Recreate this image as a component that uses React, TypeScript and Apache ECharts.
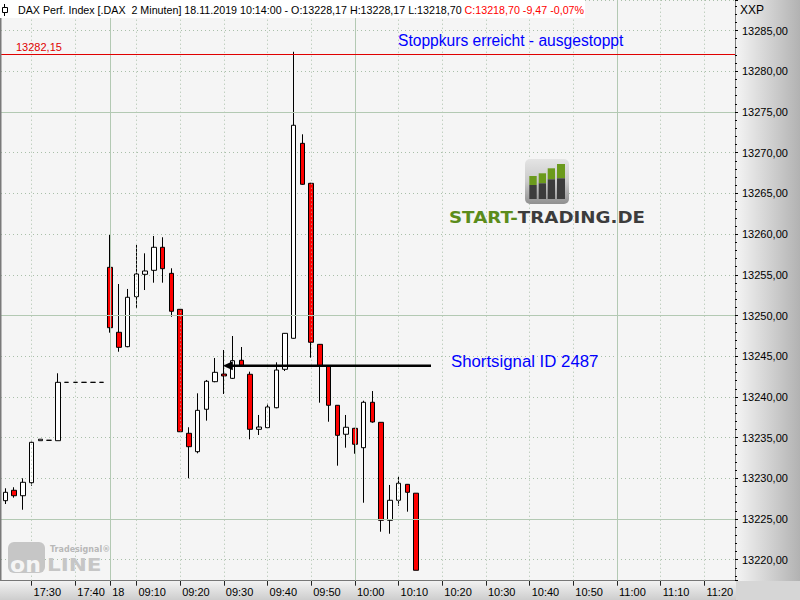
import React, { useEffect, useRef } from "react";
import * as echarts from "echarts";

const categories = [
  "17:24", "17:26", "17:28", "17:30", "17:32", "17:34", "17:36", "17:38", "17:40", "17:42", "17:44", "17:46",
  "09:04", "09:06", "09:08", "09:10", "09:12", "09:14", "09:16", "09:18", "09:20", "09:22", "09:24", "09:26",
  "09:28", "09:30", "09:32", "09:34", "09:36", "09:38", "09:40", "09:42", "09:44", "09:46", "09:48", "09:50",
  "09:52", "09:54", "09:56", "09:58", "10:00", "10:02", "10:04", "10:06", "10:08", "10:10", "10:12", "10:14",
  "10:16", "10:18", "10:20", "10:22", "10:24", "10:26", "10:28", "10:30", "10:32", "10:34", "10:36", "10:38",
  "10:40", "10:42", "10:44", "10:46", "10:48", "10:50", "10:52", "10:54", "10:56", "10:58", "11:00", "11:02",
  "11:04", "11:06", "11:08", "11:10", "11:12", "11:14", "11:16", "11:18", "11:20", "11:22", "11:24", "11:26",
];

const opens = [
  13227.25, 13228.53, 13227.86, 13229.46, 13234.62, 13234.67, 13234.62, 13241.79, 13241.79, 13241.79, 13241.79, 13241.79,
  13255.92, 13247.94, 13246.17, 13252.31, 13255.06, 13255.55, 13258.38, 13255.18, 13250.76, 13235.53, 13233.27, 13238.48,
  13241.87, 13242.81, 13242.28, 13244.5, 13242.78, 13236.02, 13236.22, 13238.67, 13243.39, 13247.2, 13271.15, 13266.24,
  13246.46, 13243.8, 13238.97, 13235.41, 13236.14, 13233.76, 13239.34, 13236.88, 13224.84, 13227.3, 13229.26, 13228.17,
];
const closes = [
  13228.28, 13227.86, 13229.51, 13234.42, 13234.8, 13234.67, 13241.79, 13241.79, 13241.79, 13241.79, 13241.79, 13241.79,
  13248.5, 13246.09, 13252.24, 13255.1, 13255.47, 13258.38, 13255.75, 13250.52, 13235.72, 13233.88, 13238.35, 13241.92,
  13243.02, 13242.57, 13244.45, 13243.88, 13236.02, 13236.3, 13238.76, 13243.3, 13247.81, 13273.37, 13266.12, 13246.71,
  13243.8, 13238.97, 13235.28, 13236.27, 13234.18, 13239.34, 13236.92, 13224.84, 13227.3, 13229.39, 13228.28, 13218.7,
];
const lows = [
  13226.84, 13227.62, 13226.14, 13229.09, 13234.62, 13234.67, 13234.62, 13241.79, 13241.79, 13241.79, 13241.79, 13241.79,
  13247.89, 13245.55, 13246.1, 13250.92, 13253.13, 13254.03, 13254.03, 13249.85, 13235.7, 13230.0, 13233.07, 13237.08,
  13241.8, 13240.36, 13242.2, 13243.8, 13234.79, 13235.32, 13236.14, 13238.6, 13243.18, 13247.15, 13266.05, 13244.82,
  13239.29, 13236.95, 13231.55, 13233.76, 13233.02, 13227.0, 13236.83, 13223.44, 13223.19, 13226.63, 13225.9, 13218.7,
];
const highs = [
  13228.77, 13228.9, 13230.0, 13234.5, 13234.8, 13234.67, 13242.9, 13241.79, 13241.79, 13241.79, 13241.79, 13241.79,
  13259.89, 13253.87, 13253.26, 13258.66, 13257.64, 13259.77, 13259.61, 13255.8, 13250.8, 13236.27, 13240.44, 13242.08,
  13244.78, 13245.76, 13247.48, 13246.13, 13243.1, 13237.78, 13239.16, 13244.25, 13247.85, 13282.4, 13272.26, 13266.3,
  13246.5, 13243.85, 13239.0, 13237.78, 13236.2, 13239.53, 13240.72, 13236.9, 13229.18, 13230.2, 13229.3, 13228.17,
];

const tickTimes = ["17:30", "17:40", "09:04", "09:10", "09:20", "09:30", "09:40", "09:50", "10:00", "10:10", "10:20", "10:30", "10:40", "10:50", "11:00", "11:10", "11:20"];
const tickLabels = ["17:30", "17:40", "18", "09:10", "09:20", "09:30", "09:40", "09:50", "10:00", "10:10", "10:20", "10:30", "10:40", "10:50", "11:00", "11:10", "11:20"];
const solidTimes = ["09:04", "10:00", "11:00"];
const solidPrices = [13275, 13250, 13225];
const stopPrice = 13282.15;
const stopLabel = "13282,15";
const signalPrice = 13243.83;
const signalStart = "09:30";
const yMin = 13217.42;
const yMax = 13288.76;

const headerBlack = "DAX Perf. Index [.DAX  2 Minuten] 18.11.2019 10:14:00 - O:13228,17 H:13228,17 L:13218,70 ";
const headerRed = "C:13218,70 -9,47 -0,07%";

const FONT = "Liberation Sans, Arial, sans-serif";

export default function App() {
  const ref = useRef<HTMLDivElement>(null);
  useEffect(() => {
    if (!ref.current) return;
    const chart = echarts.init(ref.current, undefined, { renderer: "svg" });
    const candleData = opens.map((o, i) => [o, closes[i], lows[i], highs[i]]);
    const dotted = { color: "#a9bfa9", type: [1, 3] as any, width: 1 };
    const solid = { color: "#b3c9b3", type: "solid" as any, width: 1 };
    chart.setOption({
      animation: false,
      backgroundColor: "transparent",
      grid: { left: 1, top: 0, width: 734, height: 580.7, show: true, backgroundColor: "#f5f5f5", borderWidth: 0 },
      xAxis: {
        type: "category",
        data: categories,
        boundaryGap: true,
        axisLine: { show: true, lineStyle: { color: "#777", width: 1 } },
        axisTick: {
          show: true,
          alignWithLabel: true,
          length: 5,
          interval: (i: number, v: string) => tickTimes.includes(v),
          lineStyle: { color: "#222" },
        },
        axisLabel: {
          interval: (i: number, v: string) => tickTimes.includes(v),
          formatter: (v: string) => tickLabels[tickTimes.indexOf(v)] ?? "",
          align: "left",
          padding: [0, 0, 0, 2],
          margin: 6,
          fontSize: 11,
          color: "#000",
          fontFamily: FONT,
        },
        splitLine: { show: false },
      },
      yAxis: {
        type: "value",
        position: "right",
        min: yMin,
        max: yMax,
        splitNumber: 14,
        scale: true,
        axisLine: { show: true, lineStyle: { color: "#808080" } },
        axisTick: { show: true, length: 3, lineStyle: { color: "#000" } },
        minorTick: { show: true, splitNumber: 5, length: 2, lineStyle: { color: "#000" } },
        axisLabel: {
          formatter: (v: number) => v.toFixed(2).replace(".", ","),
          fontSize: 11,
          color: "#000",
          margin: 7,
          showMinLabel: false,
          showMaxLabel: false,
          fontFamily: FONT,
        },
        splitLine: { show: true, lineStyle: dotted },
      },
      series: [
        {
          type: "line",
          data: [],
          z: 1,
          silent: true,
          markLine: {
            silent: true,
            animation: false,
            symbol: ["none", "none"],
            label: { show: false },
            data: [
              ...tickTimes.filter((t) => !solidTimes.includes(t)).map((t) => ({ xAxis: t, lineStyle: dotted })),
              ...solidTimes.map((t) => ({ xAxis: t, lineStyle: solid })),
              ...solidPrices.map((p) => ({ yAxis: p, lineStyle: solid })),
            ],
          },
        },
        {
          type: "candlestick",
          z: 3,
          data: candleData,
          barWidth: 5,
          itemStyle: {
            color: "#ffffff",
            color0: "#ff0000",
            borderColor: "#000000",
            borderColor0: "#000000",
            borderWidth: 1,
          },
          markLine: {
            silent: true,
            animation: false,
            symbol: ["none", "none"],
            label: { show: false },
            data: [{ yAxis: stopPrice, lineStyle: { color: "#e00000", width: 1, type: "solid" } }],
          },
        },
      ],
    });

    const [sx, sy] = chart.convertToPixel({ xAxisIndex: 0, yAxisIndex: 0 }, [signalStart, signalPrice]) as number[];
    const stopY = chart.convertToPixel({ yAxisIndex: 0 }, stopPrice) as number;
    const txt = (x: number, y: number, text: string, fill: string, font: string, extra: any = {}) => ({
      type: "text",
      x,
      y,
      z: 110,
      ...extra,
      style: { text, fill, font, textAlign: "left", textVerticalAlign: "middle", verticalAlign: "middle" },
    });

    chart.setOption({
      graphic: [
        { type: "rect", z: 100, shape: { x: 0, y: 0, width: 1.5, height: 581 }, style: { fill: "#7a7a7a" } },
        { type: "rect", z: 100, shape: { x: 0, y: 0, width: 585, height: 18 }, style: { fill: "#ffffff" } },
        { type: "line", z: 101, shape: { x1: 4.5, y1: 4, x2: 4.5, y2: 16 }, style: { stroke: "#000", lineWidth: 1 } },
        { type: "rect", z: 102, shape: { x: 2.5, y: 7.5, width: 5, height: 5 }, style: { fill: "#fff", stroke: "#000", lineWidth: 1 } },
        {
          type: "text",
          x: 18,
          y: 10,
          z: 110,
          style: {
            text: "{k|" + headerBlack + "}{r|" + headerRed + "}",
            textVerticalAlign: "middle",
            verticalAlign: "middle",
            rich: {
              k: { fill: "#000", font: "10.7px " + FONT },
              r: { fill: "#ff0000", font: "10.7px " + FONT },
            },
          },
        },
        txt(740, 10, "XXP", "#000", "12px " + FONT),
        txt(16, stopY - 7, stopLabel, "#e00000", "11px " + FONT),
        txt(398, 40, "Stoppkurs erreicht - ausgestoppt", "#0000ff", "15.6px " + FONT),
        txt(451, 361, "Shortsignal ID 2487", "#0000ff", "16.8px " + FONT),
        // signal line + arrow
        { type: "line", z: 105, shape: { x1: sx + 4, y1: sy, x2: 431, y2: sy }, style: { stroke: "#000", lineWidth: 2.3 } },
        { type: "polygon", z: 105, shape: { points: [[sx - 1, sy], [sx + 9, sy - 4.5], [sx + 9, sy + 4.5]] }, style: { fill: "#000" } },
        // START-TRADING.DE logo
        {
          type: "rect",
          z: 100,
          shape: { x: 525, y: 159, width: 44, height: 45, r: 5 },
          style: {
            fill: new echarts.graphic.LinearGradient(0, 0, 0, 1, [
              { offset: 0, color: "#e4e4e4" },
              { offset: 0.5, color: "#cacaca" },
              { offset: 1, color: "#909090" },
            ]),
          },
        },
        { type: "rect", z: 101, shape: { x: 529.3, y: 176, width: 7.4, height: 9 }, style: { fill: "#6b9a1c" } },
        { type: "rect", z: 101, shape: { x: 538.7, y: 173.3, width: 7.3, height: 10 }, style: { fill: "#6b9a1c" } },
        { type: "rect", z: 101, shape: { x: 547.7, y: 168.3, width: 7.3, height: 11 }, style: { fill: "#6b9a1c" } },
        { type: "rect", z: 101, shape: { x: 557, y: 164, width: 8, height: 14.3 }, style: { fill: "#6b9a1c" } },
        { type: "rect", z: 101, shape: { x: 529.3, y: 185, width: 7.4, height: 14 }, style: { fill: "#3c3c3c" } },
        { type: "rect", z: 101, shape: { x: 538.7, y: 183.3, width: 7.3, height: 15.7 }, style: { fill: "#3c3c3c" } },
        { type: "rect", z: 101, shape: { x: 547.7, y: 179.3, width: 7.3, height: 19.7 }, style: { fill: "#3c3c3c" } },
        { type: "rect", z: 101, shape: { x: 557, y: 178.3, width: 8, height: 20.7 }, style: { fill: "#3c3c3c" } },
        {
          type: "text",
          x: 449,
          y: 217,
          z: 110,
          scaleX: 1.14,
          style: {
            text: "{g|START-}{d|TRADING.DE}",
            textVerticalAlign: "middle",
            verticalAlign: "middle",
            rich: {
              g: { fill: "#5b8c1b", font: "bold 16px DejaVu Sans" },
              d: { fill: "#3c3c3c", font: "bold 16px DejaVu Sans" },
            },
          },
        },
        // Tradesignal online logo
        { type: "rect", z: 100, shape: { x: 8, y: 542, width: 37, height: 31, r: 6 }, style: { fill: "#c6c6c6" } },
        txt(10, 565, "on", "#f5f5f5", "bold 21px DejaVu Sans", { scaleX: 1.05 }),
        txt(47, 565, "LINE", "#c6c6c6", "bold 18px DejaVu Sans", { scaleX: 1.2 }),
        txt(50, 549, "Tradesignal\u00ae", "#b8b8b8", "bold 8px DejaVu Sans"),
      ],
    });
    return () => chart.dispose();
  }, []);
  return (
    <div
      ref={ref}
      style={{
        position: "absolute",
        left: 0,
        top: 0,
        width: 800,
        height: 600,
        background:
          "linear-gradient(to right, #f4f4f4, #b2b2b2) 736px 0 / 64px 581px no-repeat, linear-gradient(to bottom, #f2f2f2, #cdcdcd) 0 581px / 736px 19px no-repeat, #d6d6d6",
      }}
    />
  );
}
